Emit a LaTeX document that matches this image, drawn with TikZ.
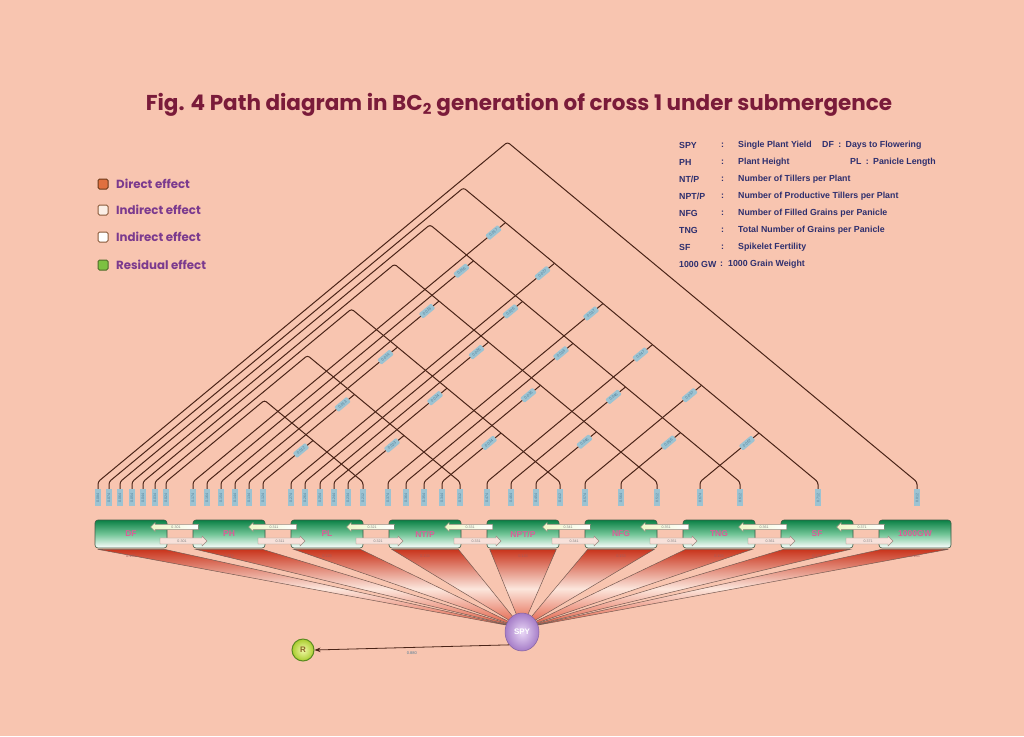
\documentclass[tikz,border=0pt]{standalone}
\usepackage{fontspec}
\setmainfont{Liberation Sans}
\newfontfamily\gothic{Poppins}
\usetikzlibrary{shapes.arrows,shapes.geometric,calc,arrows.meta}
\definecolor{bg}{HTML}{F8C5B0}
\definecolor{ln}{HTML}{4A2418}
\definecolor{ttl}{HTML}{7A1B3A}
\definecolor{lgd}{HTML}{7B3A8E}
\definecolor{abbrc}{HTML}{2E2F6E}
\definecolor{tickblue}{HTML}{9CC3D2}
\definecolor{tickbluetext}{HTML}{4D7C97}
\definecolor{boxgreen}{HTML}{0B8045}
\definecolor{boxmid}{HTML}{72C597}
\definecolor{boxedge}{HTML}{3D5A45}
\definecolor{boxlbl}{HTML}{DA5E98}
\definecolor{fanred}{HTML}{C9341C}
\definecolor{fanmid}{HTML}{FCE6DC}
\definecolor{fanbot}{HTML}{E0553A}
\definecolor{arrhead}{HTML}{EEF7C8}
\definecolor{arredge}{HTML}{9A8A80}
\definecolor{arrpink}{HTML}{F7E1DA}
\definecolor{spyin}{HTML}{EAD8F7}
\definecolor{spyout}{HTML}{A57CC7}
\definecolor{resin}{HTML}{F2F8A8}
\definecolor{resout}{HTML}{A9CC2E}
\definecolor{resedge}{HTML}{5A8A22}
\tikzset{
  conn/.style={draw=ln, line width=1pt, rounded corners=2.5pt},
  tickbox/.style={fill=tickblue, minimum width=5.5pt, minimum height=17pt, inner sep=0pt,
    font=\fontsize{3.6}{4}\selectfont, text=tickbluetext},
  coef/.style={fill=tickblue, rounded corners=1pt, inner sep=0.6pt, minimum width=16pt,
    minimum height=6.5pt, font=\fontsize{3.8}{4}\selectfont, text=tickbluetext, rotate=39.7},
  varbox/.style={rounded corners=3pt, draw=boxedge, line width=0.6pt, minimum width=72pt,
    minimum height=28pt, top color=boxgreen, bottom color=white, middle color=boxmid,
    font=\bfseries\fontsize{8.5}{9}\selectfont, text=boxlbl},
  leftarr/.style={single arrow, shape border rotate=180, draw=arredge, line width=0.4pt,
    left color=arrhead, right color=white, minimum height=48pt, minimum width=9pt,
    single arrow head extend=1.5pt, inner sep=0.6pt, font=\fontsize{3.6}{4}\selectfont, text=gray},
  rightarr/.style={single arrow, draw=arredge, line width=0.4pt, fill=arrpink,
    minimum height=47pt, minimum width=10pt, single arrow head extend=1.5pt, inner sep=0.8pt,
    font=\fontsize{3.6}{4}\selectfont, text=gray},
  fan/.style={draw=ln!75, line width=0.5pt, top color=fanred, bottom color=fanbot, middle color=fanmid},
  fanlab/.style={font=\fontsize{3.8}{4}\selectfont, text=gray!70!red},
  legsq/.style={draw, line width=1pt, rounded corners=1.5pt, minimum size=10pt, inner sep=0pt},
  legtxt/.style={anchor=west, font=\gothic\bfseries\fontsize{11.8}{12}\selectfont, text=lgd, inner sep=0pt},
  abbr/.style={anchor=west, font=\bfseries\fontsize{8.8}{9}\selectfont, text=abbrc, inner sep=0pt},
}
\begin{document}
\begin{tikzpicture}[x=1pt,y=-1pt]
\fill[bg] (0,0) rectangle (1024,736);
\useasboundingbox (0,0) rectangle (1024,736);

% title
\node[font=\gothic\bfseries\fontsize{21.5}{24}\selectfont, text=ttl] (title) at (519,105)
  {Fig. 4 Path diagram in BC\textsubscript{2} generation of cross 1 under submergence};

% left legend
\node[legsq, fill={rgb,255:red,224;green,112;blue,64}, draw={rgb,255:red,107;green,58;blue,26}] (sq1) at (103,184) {};
\node[legtxt] (lt1) at (116,184) {Direct effect};
\node[legsq, fill={rgb,255:red,251;green,239;blue,230}, draw={rgb,255:red,138;green,90;blue,58}] (sq2) at (103,210) {};
\node[legtxt] (lt2) at (116,210) {Indirect effect};
\node[legsq, fill=white, draw={rgb,255:red,138;green,90;blue,58}] (sq3) at (103,237) {};
\node[legtxt] (lt3) at (116,237) {Indirect effect};
\node[legsq, fill={rgb,255:red,124;green,193;blue,66}, draw={rgb,255:red,79;green,107;blue,42}] (sq4) at (103,265) {};
\node[legtxt] (lt4) at (116,265) {Residual effect};

% abbreviations
\node[abbr] (a1) at (679,145) {SPY};   \node[abbr] (c1) at (721,145) {:}; \node[abbr] (d1) at (738,145) {Single Plant Yield};
\node[abbr] (e1) at (822,145) {DF\enspace:\enspace Days to Flowering};
\node[abbr] (a2) at (679,162) {PH};    \node[abbr] (c2) at (721,162) {:}; \node[abbr] (d2) at (738,162) {Plant Height};
\node[abbr] (e2) at (850,162) {PL\enspace:\enspace Panicle Length};
\node[abbr] (a3) at (679,179) {NT/P};  \node[abbr] (c3) at (721,179) {:}; \node[abbr] (d3) at (738,179) {Number of Tillers per Plant};
\node[abbr] (a4) at (679,196) {NPT/P}; \node[abbr] (c4) at (721,196) {:}; \node[abbr] (d4) at (738,196) {Number of Productive Tillers per Plant};
\node[abbr] (a5) at (679,213) {NFG};   \node[abbr] (c5) at (721,213) {:}; \node[abbr] (d5) at (738,213) {Number of Filled Grains per Panicle};
\node[abbr] (a6) at (679,230) {TNG};   \node[abbr] (c6) at (721,230) {:}; \node[abbr] (d6) at (738,230) {Total Number of Grains per Panicle};
\node[abbr] (a7) at (679,247) {SF};    \node[abbr] (c7) at (721,247) {:}; \node[abbr] (d7) at (738,247) {Spikelet Fertility};
\node[abbr] (a8) at (679,264) {1000 GW}; \node[abbr] (c8) at (720,264) {:}; \node[abbr] (d8) at (728,264) {1000 Grain Weight};

% right-hand (L) ticks
\foreach \j/\x in {2/363,3/460,4/560,5/657,6/740,7/818,8/917}{
  \node[tickbox] (L\j) at (\x,497.5) {\rotatebox{90}{0.\j 12}};
  \coordinate (Lb\j) at (\x,482);
  \expandafter\xdef\csname Lx\j\endcsname{\x}
}
% left (R) ticks and connectors
\foreach \i/\x/\j in {0/98/8,0/109/7,0/120/6,0/132/5,0/143/4,0/155/3,0/166/2,
  1/193/7,1/207/6,1/221/5,1/235/4,1/249/3,1/263/2,
  2/291/7,2/305/6,2/320/5,2/334/4,2/348/3,
  3/388/7,3/406/6,3/424/5,3/442/4,
  4/487/7,4/511/6,4/536/5,
  5/585/7,5/621/6,
  6/700/7}{
  \pgfmathsetmacro\xj{\csname Lx\j\endcsname}
  \pgfmathsetmacro\jx{(\x+\xj)/2}
  \pgfmathsetmacro\jy{482-0.83*(\xj-\x)/2}
  \node[tickbox] (R\i-\j) at (\x,497.5) {\rotatebox{90}{0.\i\j 4}};
  \coordinate (J\i-\j) at (\jx,\jy);
  \ifnum\i=0
    \draw[conn] (R\i-\j.north) -- ++(0,-7) -- (J\i-\j) -- (Lb\j) -- (L\j.north);
  \else
    \draw[conn] (R\i-\j.north) -- ++(0,-7) -- (J\i-\j);
  \fi
}
% coefficient labels on the connectors
\foreach \i/\j in {1/7,1/6,1/5,1/4,1/3,1/2,2/7,2/6,2/5,2/4,2/3,3/7,3/6,3/5,3/4,4/7,4/6,4/5,5/7,5/6,6/7}{
  \node[coef] (C\i-\j) at ($(J\i-\j)+(-12,9.96)$) {0.0\i\j};
}

% variable boxes
\foreach \k/\nm/\lbl in {0/DF/DF,1/PH/PH,2/PL/PL,3/NTP/NT\slash P,4/NPTP/NPT\slash P,5/NFG/NFG,6/TNG/TNG,7/SF/SF,8/GW/1000GW}{
  \node[varbox] (\nm) at ({131+98*\k},534) {\lbl};
}

% fans to SPY
\coordinate (spyc) at (522,628);
\foreach \nm/\k in {DF/0,PH/1,PL/2,NTP/3,NPTP/4,NFG/5,TNG/6,SF/7,GW/8}{
  \path[fan] ($(\nm.south west)+(3,1)$) -- ($(\nm.south east)+(-3,1)$) -- (spyc) -- cycle;
  \node[fanlab] (f\nm) at ($(\nm.south)+(0,8)$) {0.1\k 3};
}

% arrows between adjacent boxes
\foreach \k in {0,...,7}{
  \node[leftarr] (ua\k) at ({176+98*\k},527) {0.3\k 1};
  \node[rightarr] (la\k) at ({182+98*\k},541) {0.3\k 1};
}

% SPY and residual
\node[ellipse, minimum width=34pt, minimum height=38pt, inner color=spyin, outer color=spyout,
  draw=spyout!80!black, line width=0.5pt,
  font=\bfseries\fontsize{8}{9}\selectfont, text=white] (SPY) at (522,632) {SPY};
\node[circle, minimum size=22pt, inner sep=0pt, inner color=resin, outer color=resout, draw=resedge,
  line width=1pt, font=\bfseries\fontsize{8}{9}\selectfont, text={rgb,255:red,140;green,100;blue,40}] (R) at (303,650) {R};
\draw[ln, line width=0.8pt, -{Stealth[length=6pt]}] (SPY.225) -- (R.east)
  node[midway, below=1pt, font=\fontsize{4}{5}\selectfont, text=tickbluetext] (rl) {0.880};
\end{tikzpicture}
\end{document}
